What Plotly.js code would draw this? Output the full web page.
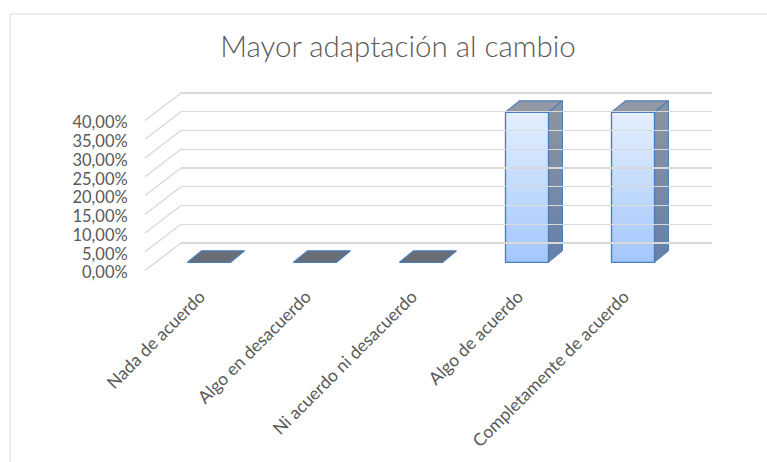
<!DOCTYPE html>
<html><head><meta charset="utf-8">
<script src="https://cdn.plot.ly/plotly-3.0.1.min.js"></script>
<style>html,body{margin:0;padding:0;background:#fff;}</style>
</head><body>
<div id="chart" style="width:767px;height:462px"></div>
<script>
// ---- data ----
const categories = ["Nada de acuerdo", "Algo en desacuerdo", "Ni acuerdo ni desacuerdo", "Algo de acuerdo", "Completamente de acuerdo"];
const values = [0, 0, 0, 0.40, 0.40];
const tickValues = [0, 0.05, 0.10, 0.15, 0.20, 0.25, 0.30, 0.35, 0.40];
const chartTitle = "Mayor adaptación al cambio";

// ---- geometry helpers (pixel layout of the pseudo-3D scene) ----
const W = 767, H = 462;
const fx = px => px / W;
const fy = py => 1 - py / H;
const pxPerUnit = 375;          // vertical pixels per 100% of value
const catStep = 106;            // pixels between categories
const barZero = 262.3, barCat0 = 209;   // bar front plane
const backZero = 243, backLeft = 181, backRight = 712; // back wall
const frontZero = 272.5, frontLeft = 145;              // front plane (labels)
const labelCat0 = 200;
const w = 0.405;                // bar width (category units)
const dx = 14 / catStep;        // bar depth in category units
const dy = 11.5 / pxPerUnit;    // bar depth in value units
const idx = categories.map((c, i) => i);

const yMin = -0.015, yMax = 0.45;
const traces = [];

// back wall subplot (gridlines only)
traces.push({type: 'scatter', x: idx, y: values, xaxis: 'x2', yaxis: 'y2',
  mode: 'markers', marker: {opacity: 0}, hoverinfo: 'skip', showlegend: false});
// front plane subplot (axis labels only)
traces.push({type: 'scatter', x: idx, y: values, xaxis: 'x3', yaxis: 'y3',
  mode: 'markers', marker: {opacity: 0}, hoverinfo: 'skip', showlegend: false});

// front faces as real bars
traces.push({type: 'bar', x: idx, y: values, width: w, xaxis: 'x', yaxis: 'y',
  marker: {color: '#c4dbfc', line: {color: '#4a7ebb', width: 1.2}},
  text: categories, textposition: 'none', hoverinfo: 'text+y', showlegend: false});

idx.forEach(i => {
  const v = values[i];
  const L = i - w / 2, R = i + w / 2;
  if (v > 0) {
    // side face
    traces.push({type: 'scatter', mode: 'lines', fill: 'toself', hoverinfo: 'skip', showlegend: false,
      x: [R, R + dx, R + dx, R, R], y: [0, dy, v + dy, v, 0],
      line: {color: '#4a7ebb', width: 1}, fillcolor: '#7b8aa3',
      fillgradient: {type: 'vertical', colorscale: [[0, '#6580aa'], [1, '#8e95a0']]}});
    // front face gradient
    traces.push({type: 'scatter', mode: 'lines', fill: 'toself', hoverinfo: 'skip', showlegend: false,
      x: [L, R, R, L, L], y: [0, 0, v, v, 0],
      line: {color: '#4a7ebb', width: 1.3}, fillcolor: '#c4dbfc',
      fillgradient: {type: 'vertical', colorscale: [[0, '#a3c6fb'], [1, '#e4efff']]}});
  }
  // top face
  traces.push({type: 'scatter', mode: 'lines', fill: 'toself', hoverinfo: 'skip', showlegend: false,
    x: [L, R, R + dx, L + dx, L], y: [v, v, v + dy, v + dy, v],
    line: {color: '#4a7ebb', width: 1.2}, fillcolor: v > 0 ? '#9299a4' : '#696d76'});
});

// perspective lines from front labels to the back wall
const shapes = tickValues.map(t => ({type: 'line', xref: 'paper', yref: 'paper',
  x0: fx(frontLeft), y0: fy(frontZero - 2 - t * pxPerUnit),
  x1: fx(backLeft), y1: fy(backZero - t * pxPerUnit),
  line: {color: '#d9d9d9', width: 1.4}, layer: 'below'}));
// chart border
shapes.push({type: 'rect', xref: 'paper', yref: 'paper', x0: fx(10), y0: -0.05, x1: 1.05, y1: fy(14),
  line: {color: '#d9d9d9', width: 1}, layer: 'below'});

const txt = {family: 'Lato, "Open Sans", sans-serif', size: 16.5, color: '#595959'};
const catTxt = {family: 'Lato, "Open Sans", sans-serif', size: 17.5, color: '#595959'};

const layout = {
  width: W, height: H,
  margin: {l: 0, r: 0, t: 0, b: 0},
  paper_bgcolor: '#ffffff', plot_bgcolor: 'rgba(0,0,0,0)',
  separators: ',.',
  showlegend: false,
  title: {text: chartTitle, x: fx(398), xanchor: 'center', xref: 'paper', y: fy(47), yanchor: 'middle',
    font: {family: 'Lato, "Open Sans", sans-serif', size: 29.5, color: '#595959', weight: 300}},
  // bar plane
  xaxis: {domain: [fx(barCat0 - catStep / 2), fx(barCat0 + 4.5 * catStep)], range: [-0.5, 4.5],
    visible: false, fixedrange: true},
  yaxis: {domain: [fy(barZero - yMin * pxPerUnit), fy(barZero - yMax * pxPerUnit)], range: [yMin, yMax],
    visible: false, fixedrange: true},
  // back wall
  xaxis2: {domain: [fx(backLeft), fx(backRight)], range: [-0.5, 4.5], anchor: 'y2',
    showgrid: false, zeroline: false, showline: false, showticklabels: false, ticks: ''},
  yaxis2: {domain: [fy(backZero + 0.01 * pxPerUnit), fy(backZero - 0.41 * pxPerUnit)], range: [-0.01, 0.41], anchor: 'x2',
    tickvals: tickValues, showgrid: true, gridcolor: '#d9d9d9', gridwidth: 1.4,
    zeroline: false, showline: false, showticklabels: false, ticks: ''},
  // front plane: tick labels
  xaxis3: {domain: [fx(labelCat0 - catStep / 2), fx(labelCat0 + 4.5 * catStep)], range: [-0.5, 4.5], anchor: 'y3',
    tickvals: idx, ticktext: categories, tickangle: -45, tickfont: catTxt,
    ticks: 'outside', ticklen: 6, tickcolor: 'rgba(0,0,0,0)',
    showgrid: false, zeroline: false, showline: false},
  yaxis3: {domain: [fy(frontZero), fy(frontZero - 0.4 * pxPerUnit)], range: [0, 0.4], anchor: 'free',
    position: fx(frontLeft), side: 'left',
    tickvals: tickValues, tickformat: '.2%', tickfont: txt,
    ticks: 'outside', ticklen: 14, tickcolor: 'rgba(0,0,0,0)',
    showgrid: false, zeroline: false, showline: false},
  shapes: shapes
};

Plotly.newPlot('chart', traces, layout, {displayModeBar: false, staticPlot: true});
</script>
</body></html>
